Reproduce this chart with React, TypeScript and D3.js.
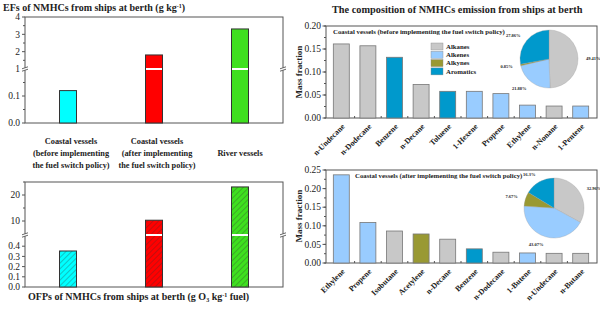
import * as d3 from "d3";

// ---- data ----
const vesselLabels = [
  ["Coastal vessels", "(before implementing", "the fuel switch policy)"],
  ["Coastal vessels", "(after implementing", "the fuel switch policy)"],
  ["", "River vessels", ""],
];
const efValues = [0.12, 1.81, 3.31];
const ofpValues = [0.353, 10.3, 23.1];
const vesselColors = ["#00FFFF", "#FF0000", "#3FE01F"];

const groups = ["Alkanes", "Alkenes", "Alkynes", "Aromatics"];
const groupColors = ["#C8C8C8", "#99CCFF", "#999933", "#0099CC"];

const beforeSpecies = ["n-Undecane", "n-Dodecane", "Benzene", "n-Decane", "Toluene", "1-Hexene", "Propene", "Ethylene", "n-Nonane", "1-Pentene"];
const beforeValues = [0.161, 0.157, 0.132, 0.073, 0.058, 0.058, 0.053, 0.028, 0.026, 0.026];
const beforeGroups = [0, 0, 3, 0, 3, 1, 1, 1, 0, 1];

const afterSpecies = ["Ethylene", "Propene", "Isobutane", "Acetylene", "n-Decane", "Benzene", "n-Dodecane", "1-Butene", "n-Undecane", "n-Butane"];
const afterValues = [0.237, 0.109, 0.086, 0.078, 0.064, 0.038, 0.029, 0.027, 0.026, 0.026];
const afterGroups = [1, 1, 0, 2, 0, 3, 0, 1, 0, 0];

const pieBefore = [49.41, 21.88, 0.85, 27.86];
const pieAfter = [32.96, 43.07, 7.67, 16.3];
const pieBeforeLabels = ["49.41%", "21.88%", "0.85%", "27.86%"];
const pieAfterLabels = ["32.96%", "43.07%", "7.67%", "16.3%"];

const serif = "'Liberation Serif', 'Times New Roman', serif";
const frame = "#555";

// ---- broken-axis vessel panel ----
type Seg = { domain: [number, number]; range: [number, number]; ticks: number[]; minor: number[]; fmt: (v: number) => string };

function VesselPanel({ top, bottom, breakY, lower, upper, values, hatch }: any) {
  const left = 25, right = 283;
  const x = d3.scalePoint<number>().domain([0, 1, 2]).range([left, right]).padding(0.5);
  const lo = d3.scaleLinear().domain(lower.domain).range(lower.range);
  const up = d3.scaleLinear().domain(upper.domain).range(upper.range);
  const bw = 17;
  const segs: [Seg, any][] = [[lower, lo], [upper, up]];
  return (
    <g>
      <rect x={left} y={top} width={right - left} height={bottom - top} fill="none" stroke={frame} strokeWidth={1} />
      {segs.map(([s, sc], k) => (
        <g key={k}>
          {s.ticks.map((t) => (
            <g key={t}>
              <line x1={left - 3} x2={left} y1={sc(t)} y2={sc(t)} stroke={frame} />
              <text x={left - 5} y={sc(t)} dy="0.34em" textAnchor="end" fontSize={9.5} fontFamily={serif} fill="#222">{s.fmt(t)}</text>
            </g>
          ))}
          {s.minor.map((t) => (
            <line key={"m" + t} x1={left - 2} x2={left} y1={sc(t)} y2={sc(t)} stroke={frame} />
          ))}
        </g>
      ))}
      {values.map((v: number, i: number) => {
        const cx = x(i)!;
        const yTop = v <= lower.domain[1] ? lo(v) : up(v);
        return (
          <g key={i}>
            <rect x={cx - bw / 2} y={yTop} width={bw} height={bottom - yTop} fill={hatch ? `url(#hatch${i})` : vesselColors[i]} stroke="#333" strokeWidth={1} />
            {v > lower.domain[1] && <line x1={cx - bw / 2 + 0.5} x2={cx + bw / 2 - 0.5} y1={breakY} y2={breakY} stroke="#fff" strokeWidth={2} />}
          </g>
        );
      })}
      {[left, right].map((ax) => (
        <g key={ax}>
          <rect x={ax - 3} y={breakY - 1.2} width={6} height={2.4} fill="#fff" />
          <line x1={ax - 3} x2={ax + 3} y1={breakY - 0.2} y2={breakY - 2.2} stroke={frame} strokeWidth={0.9} />
          <line x1={ax - 3} x2={ax + 3} y1={breakY + 2.2} y2={breakY + 0.2} stroke={frame} strokeWidth={0.9} />
        </g>
      ))}
    </g>
  );
}

// ---- composition panel ----
function CompPanel({ top, bottom, yMax, yTicks, species, values, gidx, caption, captionX, pie, pieLabels, pieC, pieR, legend }: any) {
  const left = 326, right = 597;
  const x = d3.scaleBand<string>().domain(species).range([328, 594]).paddingInner(0.4).paddingOuter(0.2);
  const y = d3.scaleLinear().domain([0, yMax]).range([bottom, top]);
  const minor = d3.range(0, yMax + 1e-9, yTicks[1] / 2);
  const arcs = d3.pie<number>().sort(null)(pie);
  const arc = d3.arc<d3.PieArcDatum<number>>().innerRadius(0).outerRadius(pieR);
  const labelArc = d3.arc<d3.PieArcDatum<number>>().innerRadius(pieR + 8).outerRadius(pieR + 8);
  return (
    <g>
      <rect x={left} y={top} width={right - left} height={bottom - top} fill="none" stroke={frame} strokeWidth={1} />
      {minor.map((t: number) => (
        <line key={"m" + t} x1={left - 2} x2={left} y1={y(t)} y2={y(t)} stroke={frame} />
      ))}
      {yTicks.map((t: number) => (
        <g key={t}>
          <line x1={left - 3.5} x2={left} y1={y(t)} y2={y(t)} stroke={frame} />
          <text x={left - 5} y={y(t)} dy="0.34em" textAnchor="end" fontSize={9.5} fontFamily={serif} fill="#222">{t.toFixed(2)}</text>
        </g>
      ))}
      {species.slice(1).map((s: string) => (
        <line key={"xt" + s} x1={x(s)! - x.step() * x.paddingInner() / 2} x2={x(s)! - x.step() * x.paddingInner() / 2} y1={bottom} y2={bottom - 2} stroke={frame} />
      ))}
      {species.map((s: string, i: number) => (
        <g key={s}>
          <rect x={x(s)} y={y(values[i])} width={x.bandwidth()} height={bottom - y(values[i])} fill={groupColors[gidx[i]]} stroke="#777" strokeWidth={0.8} />
          <text transform={`translate(${x(s)! + x.bandwidth() / 2 + 4},${bottom + 9}) rotate(-45)`} textAnchor="end" fontSize={8} fontWeight="bold" fontFamily={serif} fill="#222">{s}</text>
        </g>
      ))}
      <text x={captionX} y={top + 8} fontSize={6.8} fontWeight="bold" fontFamily={serif} fill="#222">{caption}</text>
      {legend && groups.map((g, i) => (
        <g key={g}>
          <rect x={431} y={43 + i * 8.3} width={12} height={7} fill={groupColors[i]} stroke="#888" strokeWidth={0.4} />
          <text x={446} y={46.5 + i * 8.3} dy="0.34em" fontSize={6.8} fontWeight="bold" fontFamily={serif} fill="#222">{g}</text>
        </g>
      ))}
      <g transform={`translate(${pieC[0]},${pieC[1]})`}>
        {arcs.map((a, i) => (
          <path key={i} d={arc(a)!} fill={groupColors[i]} stroke="#999" strokeWidth={0.3} />
        ))}
        {arcs.map((a, i) => {
          const [lx, ly] = labelArc.centroid(a);
          return (
            <text key={"l" + i} x={lx} y={ly} dy="0.34em" textAnchor={Math.abs(lx) < 6 ? "middle" : lx > 0 ? "start" : "end"} fontSize={4.5} fontWeight="bold" fontFamily={serif} fill="#222">{pieLabels[i]}</text>
          );
        })}
      </g>
    </g>
  );
}

export default function App() {
  const fmt1 = (v: number) => v.toFixed(1);
  const fmt0 = (v: number) => String(v);
  const vx = d3.scalePoint<number>().domain([0, 1, 2]).range([25, 283]).padding(0.5);
  return (
    <svg width={600} height={312} style={{ position: "absolute", left: 0, top: 0, background: "#fff" }}>
      <defs>
        {vesselColors.map((c, i) => (
          <pattern key={i} id={`hatch${i}`} patternUnits="userSpaceOnUse" width={4} height={4} patternTransform="rotate(45)">
            <rect width={4} height={4} fill={c} />
            <line x1={0} y1={0} x2={0} y2={4} stroke="#333" strokeWidth={0.6} />
          </pattern>
        ))}
      </defs>

      <text x={3} y={11} fontSize={10} fontWeight="bold" fontFamily={serif} fill="#222">
        EFs of NMHCs from ships at berth (g kg<tspan dy={-3} fontSize={6}>-1</tspan><tspan dy={3}>)</tspan>
      </text>

      <VesselPanel
        top={17} bottom={123} breakY={69}
        lower={{ domain: [0, 0.2], range: [123, 69], ticks: [0, 0.1], minor: [0.05, 0.15], fmt: fmt1 }}
        upper={{ domain: [1, 4], range: [69, 17], ticks: [1, 2, 3, 4], minor: [1.5, 2.5, 3.5], fmt: fmt0 }}
        values={efValues} hatch={false}
      />

      {vesselLabels.map((lines, i) => {
        const cx = vx(i)! + (i < 2 ? 3 : 0);
        return (
          <text key={i} textAnchor="middle" fontSize={8.3} fontWeight="bold" fontFamily={serif} fill="#222">
            {lines.map((l, k) => (
              <tspan key={k} x={cx} y={144 + k * 12}>{l}</tspan>
            ))}
          </text>
        );
      })}

      <VesselPanel
        top={182} bottom={287} breakY={235}
        lower={{ domain: [0, 0.5], range: [287, 236], ticks: [0, 0.1, 0.2, 0.3, 0.4], minor: [], fmt: fmt1 }}
        upper={{ domain: [5, 25], range: [234, 182], ticks: [10, 20], minor: [15, 25], fmt: fmt0 }}
        values={ofpValues} hatch={true}
      />

      <text x={28} y={300} fontSize={10} fontWeight="bold" fontFamily={serif} fill="#222">
        OFPs of NMHCs from ships at berth (g O<tspan dy={2} fontSize={6}>3</tspan><tspan dy={-2}> kg</tspan><tspan dy={-3} fontSize={6}>-1</tspan><tspan dy={3}> fuel)</tspan>
      </text>

      <text x={332} y={13} fontSize={10.3} fontWeight="bold" fontFamily={serif} fill="#222">The composition of NMHCs emission from ships at berth</text>

      <CompPanel
        top={26} bottom={118} yMax={0.2} yTicks={[0, 0.05, 0.1, 0.15, 0.2]}
        species={beforeSpecies} values={beforeValues} gidx={beforeGroups}
        caption="Coastal vessels (before implementing the fuel switch policy)" captionX={333}
        pie={pieBefore} pieLabels={pieBeforeLabels} pieC={[549, 59]} pieR={29} legend={true}
      />
      <CompPanel
        top={170} bottom={263} yMax={0.25} yTicks={[0, 0.05, 0.1, 0.15, 0.2, 0.25]}
        species={afterSpecies} values={afterValues} gidx={afterGroups}
        caption="Coastal vessels (after implementing the fuel switch policy)" captionX={355}
        pie={pieAfter} pieLabels={pieAfterLabels} pieC={[554, 208]} pieR={30} legend={false}
      />

      {[72, 216].map((cy) => (
        <text key={cy} transform={`translate(302,${cy}) rotate(-90)`} textAnchor="middle" fontSize={9} fontWeight="bold" fontFamily={serif} fill="#222">Mass fraction</text>
      ))}
    </svg>
  );
}
